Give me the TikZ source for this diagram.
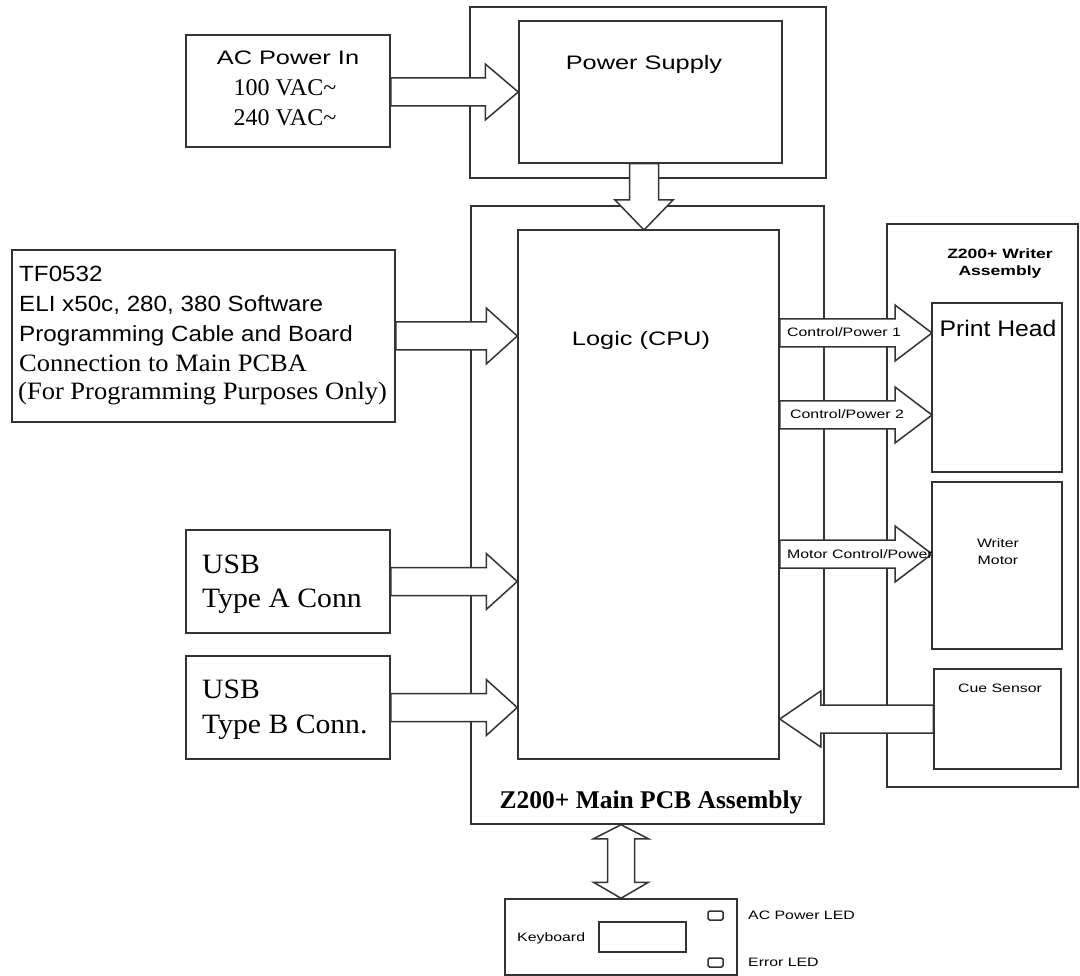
\documentclass[tikz,border=0pt]{standalone}
\usepackage{fontspec}
\setmainfont{Liberation Serif}
\setsansfont{Liberation Sans}
\newfontfamily\midsans{Liberation Sans}[FakeStretch=1.1]
\newfontfamily\widesans{Liberation Sans}[FakeStretch=1.3]
\newfontfamily\wideserif{Liberation Serif}[FakeStretch=1.06]
\usetikzlibrary{calc}

\tikzset{
  blk/.style={draw=black!80,line width=1.5pt,inner sep=0pt},
  barrow/.style={draw=black!80,line width=1.5pt,fill=white},
  lbl/.style={inner sep=0pt,anchor=base},
  lblw/.style={inner sep=0pt,anchor=base west},
  tiny/.style={font=\widesans\fontsize{12.2}{15}\selectfont},
}

% block arrows: #1 head length, #2 tail side, #3 tip
\newcommand{\harrow}[3][31]{%
  \draw[barrow] let \p1=(#2), \p2=(#3), \n1={#1*(\x2-\x1)/abs(\x2-\x1)} in
    (\x1,{\y2+14pt}) -- ({\x2-(\n1)},{\y2+14pt}) -- ({\x2-(\n1)},{\y2+28pt}) -- (\x2,\y2)
    -- ({\x2-(\n1)},{\y2-28pt}) -- ({\x2-(\n1)},{\y2-14pt}) -- (\x1,{\y2-14pt}) -- cycle;}
\newcommand{\varrow}[3][30]{%
  \draw[barrow] let \p1=(#2), \p2=(#3), \n1={#1*(\y2-\y1)/abs(\y2-\y1)} in
    ({\x2+14.5pt},\y1) -- ({\x2+14.5pt},{\y2-(\n1)}) -- ({\x2+29pt},{\y2-(\n1)}) -- (\x2,\y2)
    -- ({\x2-29pt},{\y2-(\n1)}) -- ({\x2-14.5pt},{\y2-(\n1)}) -- ({\x2-14.5pt},\y1) -- cycle;}

\begin{document}
\begin{tikzpicture}[x=1pt,y=-1pt]
\useasboundingbox (0,0) rectangle (1080,976);

% boxes
\node[blk,minimum width=204pt,minimum height=112pt] (ac) at (288,91) {};
\node[blk,minimum width=356pt,minimum height=171pt] (psout) at (648,92.5) {};
\node[blk,minimum width=263pt,minimum height=142pt] (psin) at (650.5,92) {};
\node[blk,minimum width=353pt,minimum height=618pt] (mainout) at (647.5,515) {};
\node[blk,minimum width=261pt,minimum height=529pt] (logic) at (648.5,494.5) {};
\node[blk,minimum width=383pt,minimum height=172pt] (tf) at (203.5,336) {};
\node[blk,minimum width=204pt,minimum height=103pt] (usba) at (288,581.5) {};
\node[blk,minimum width=204pt,minimum height=103pt] (usbb) at (288,707.5) {};
\node[blk,minimum width=191pt,minimum height=563pt] (writer) at (982.5,505.5) {};
\node[blk,minimum width=130pt,minimum height=169pt] (head) at (997,387.5) {};
\node[blk,minimum width=130pt,minimum height=167pt] (motor) at (997,565.5) {};
\node[blk,minimum width=127pt,minimum height=100pt] (cue) at (997.5,719) {};
\node[blk,minimum width=232pt,minimum height=76pt] (kbd) at (621,937) {};
\node[blk,minimum width=87pt,minimum height=30pt] (screen) at (642.5,937) {};
\node[blk,rounded corners=1.5pt,minimum width=15pt,minimum height=9pt] (led1) at (715.5,915.5) {};
\node[blk,rounded corners=1.5pt,minimum width=15pt,minimum height=9pt] (led2) at (715.5,962.5) {};

% arrows
\coordinate (pstip) at (644,230);
\coordinate (ph1) at (932,333);
\coordinate (ph2) at (932,415);
\coordinate (mt) at (932,554);
\harrow[33]{ac.east}{psin.west}
\varrow{psin.south}{pstip}
\harrow{tf.east}{tf.east -| logic.west}
\harrow{usba.east}{usba.east -| logic.west}
\harrow{usbb.east}{usbb.east -| logic.west}
\harrow[37]{logic.east}{ph1}
\harrow[37]{logic.east}{ph2}
\harrow[37]{logic.east}{mt}
\harrow[41]{cue.west}{cue.west -| logic.east}
\draw[barrow] let \p1=(kbd.north |- mainout.south), \p2=(kbd.north) in
  (\x1,\y1) -- ({\x1+27.5pt},{\y1-14pt}) -- ({\x1+13.5pt},{\y1-14pt}) -- ({\x1+13.5pt},{\y2+16pt})
  -- ({\x1+27.5pt},{\y2+16pt}) -- (\x1,\y2) -- ({\x1-27.5pt},{\y2+16pt}) -- ({\x1-13.5pt},{\y2+16pt})
  -- ({\x1-13.5pt},{\y1-14pt}) -- ({\x1-27.5pt},{\y1-14pt}) -- cycle;

% texts
\node[lbl,font=\widesans\fontsize{19.5}{23}\selectfont] (actitle) at (288,65) {AC Power In};
\node[lbl,font=\fontsize{24}{28}\selectfont] (ac100) at (285,96) {100 VAC\textasciitilde};
\node[lbl,font=\fontsize{24}{28}\selectfont] (ac240) at (285,126) {240 VAC\textasciitilde};
\node[lbl,font=\widesans\fontsize{19.5}{23}\selectfont] (pstext) at (644,70) {Power Supply};
\node[lbl,font=\widesans\fontsize{19.5}{23}\selectfont] (logictext) at (641,346) {Logic (CPU)};
\node[lbl,font=\bfseries\fontsize{25.5}{30}\selectfont] (maintext) at (651,808) {Z200+ Main PCB Assembly};

\node[lblw,font=\midsans\fontsize{22}{26}\selectfont] (tf1) at (19,282) {TF0532};
\node[lblw,font=\midsans\fontsize{22}{26}\selectfont] (tf2) at (19,312) {ELI x50c, 280, 380 Software};
\node[lblw,font=\midsans\fontsize{22}{26}\selectfont] (tf3) at (19,342) {Programming Cable and Board};
\node[lblw,font=\wideserif\fontsize{25}{29}\selectfont] (tf4) at (19,372) {Connection to Main PCBA};
\node[lblw,font=\wideserif\fontsize{25}{29}\selectfont] (tf5) at (18,400) {(For Programming Purposes Only)};

\node[lblw,font=\wideserif\fontsize{28}{32}\selectfont] (usba1) at (202,573) {USB};
\node[lblw,font=\wideserif\fontsize{28}{32}\selectfont] (usba2) at (202,607) {Type A Conn};
\node[lblw,font=\wideserif\fontsize{28}{32}\selectfont] (usbb1) at (202,698) {USB};
\node[lblw,font=\wideserif\fontsize{28}{32}\selectfont] (usbb2) at (202,733) {Type B Conn.};

\node[lbl,font=\widesans\bfseries\fontsize{13.5}{16}\selectfont] (wtitle1) at (1000,259) {Z200+ Writer};
\node[lbl,font=\widesans\bfseries\fontsize{13.5}{16}\selectfont] (wtitle2) at (1000,276) {Assembly};
\node[lbl,font=\midsans\fontsize{22.5}{26}\selectfont] (headtext) at (998,337) {Print Head};
\node[lbl,tiny] (motor1) at (998,547) {Writer};
\node[lbl,tiny] (motor2) at (998,564) {Motor};
\node[lbl,tiny] (cuetext) at (1000,692) {Cue Sensor};

\node[lblw,tiny] (cp1) at (787,337) {Control/Power 1};
\node[lblw,tiny] (cp2) at (790,419) {Control/Power 2};
\node[lblw,tiny] (mcp) at (787,558) {Motor Control/Power};

\node[lblw,tiny] (kbdtext) at (517,941) {Keyboard};
\node[lblw,tiny] (led1text) at (748,919) {AC Power LED};
\node[lblw,tiny] (led2text) at (748,966) {Error LED};
\end{tikzpicture}
\end{document}
